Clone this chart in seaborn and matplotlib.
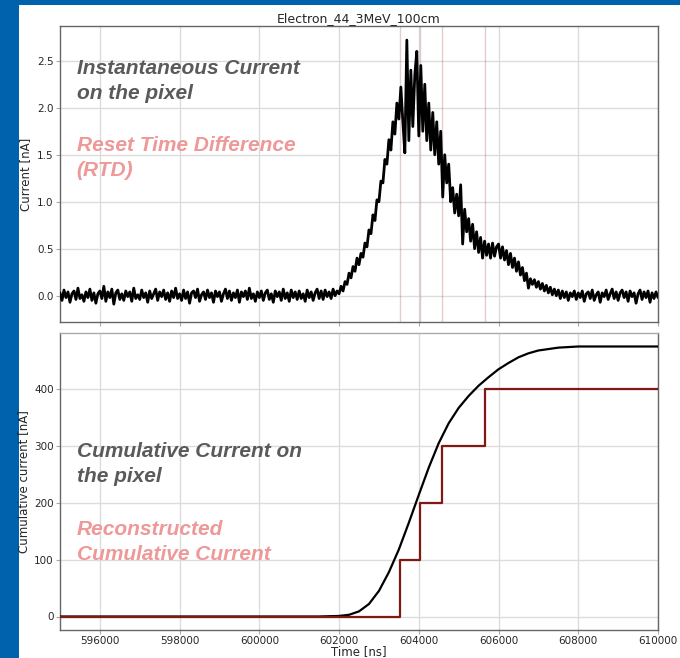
import numpy as np
import pandas as pd
import matplotlib
matplotlib.use("Agg")
import matplotlib.pyplot as plt
from matplotlib.patches import Rectangle
import seaborn as sns

# ---------------- data ----------------
title = "Electron_44_3MeV_100cm"
t_start, t_stop, t_step = 595000, 610000, 50

# instantaneous current [nA], one value every 50 ns from 595000 to 610000
current = [
    0.03, -0.05, 0.06, -0.02, 0.04, -0.07, 0.02, 0.05, -0.04, 0.08, -0.03, 0.01, -0.06, 0.04, -0.02, 0.07, -0.05, 0.03, -0.08, 0.02,
    0.05, -0.03, 0.10, -0.06, 0.04, -0.02, 0.07, -0.09, 0.03, 0.06, -0.04, 0.02, -0.05, 0.05, -0.01, 0.04, -0.06, 0.08, -0.03, 0.01,
    -0.04, 0.06, -0.02, 0.03, -0.07, 0.05, -0.03, 0.02, 0.07, -0.05, 0.04, -0.01, 0.06, -0.04, 0.03, -0.06, 0.05, -0.02, 0.08, -0.03,
    0.02, -0.05, 0.06, -0.03, 0.04, -0.08, 0.03, 0.05, -0.02, 0.07, -0.06, 0.01, 0.04, -0.04, 0.06, -0.02, 0.03, -0.07, 0.05, -0.01,
    0.04, -0.06, 0.02, 0.07, -0.03, 0.05, -0.05, 0.03, -0.02, 0.06, -0.07, 0.04, -0.01, 0.05, -0.04, 0.08, -0.03, 0.02, -0.06, 0.04,
    -0.02, 0.05, -0.05, 0.03, 0.06, -0.04, 0.02, -0.07, 0.05, -0.01, 0.04, -0.05, 0.07, -0.03, 0.03, -0.06, 0.06, -0.02, 0.04, -0.04,
    0.05, -0.03, 0.02, -0.06, 0.06, -0.02, 0.04, -0.05, 0.03, 0.07, -0.03, 0.05, -0.04, 0.06, -0.01, 0.04, -0.03, 0.07, 0.00, 0.05,
    0.02, 0.10, 0.05, 0.15, 0.12, 0.24, 0.19, 0.31, 0.26, 0.40, 0.33, 0.45, 0.41, 0.56, 0.52, 0.70, 0.66, 0.86, 0.80, 1.02,
    1.00, 1.22, 1.20, 1.45, 1.40, 1.66, 1.55, 1.85, 1.72, 2.05, 1.88, 2.22, 1.85, 1.52, 2.72, 1.65, 2.40, 1.80, 2.35, 2.60,
    1.70, 2.45, 1.75, 2.25, 1.65, 2.05, 1.55, 1.95, 1.50, 1.85, 1.40, 1.75, 1.05, 1.50, 1.20, 1.40, 1.00, 1.15, 0.88, 1.08,
    0.85, 1.18, 0.55, 0.92, 0.68, 0.82, 0.58, 0.76, 0.50, 0.68, 0.46, 0.62, 0.40, 0.58, 0.43, 0.55, 0.40, 0.56, 0.42, 0.52,
    0.55, 0.40, 0.52, 0.38, 0.48, 0.33, 0.45, 0.30, 0.40, 0.26, 0.36, 0.22, 0.30, 0.16, 0.24, 0.08, 0.18, 0.12, 0.17, 0.09,
    0.15, 0.07, 0.13, 0.05, 0.11, 0.03, 0.09, 0.01, 0.07, 0.00, 0.06, -0.03, 0.05, -0.02, 0.04, -0.05, 0.03, -0.01, 0.05, -0.04,
    0.03, -0.02, 0.05, -0.06, 0.02, 0.04, -0.03, 0.06, -0.05, 0.01, 0.04, -0.07, 0.03, -0.01, 0.06, -0.04, 0.02, 0.07, -0.03, 0.04,
    -0.05, 0.03, 0.06, -0.02, 0.04, -0.06, 0.05, -0.01, 0.03, -0.08, 0.02, 0.06, -0.04, 0.04, -0.02, 0.05, -0.07, 0.03, -0.03, 0.04,
    -0.02,
]

# cumulative current [nA]
cum_time = [595000, 601500, 602000, 602250, 602500, 602750, 603000, 603250, 603500, 603750,
            604000, 604250, 604500, 604750, 605000, 605250, 605500, 605750, 606000, 606250,
            606500, 606750, 607000, 607500, 608000, 610000]
cum_value = [0, 0, 1, 3, 9, 22, 45, 78, 118, 165,
             214, 262, 305, 340, 367, 388, 406, 421, 435, 446,
             456, 463, 468, 473, 475, 475]

# reset times (RTD) and reconstructed cumulative current
reset_times = [603516, 604018, 604579, 605665]
recon_time = [595000, 603516, 604018, 604579, 605665, 610000]
recon_value = [0, 100, 200, 300, 400, 400]

xticks = [596000, 598000, 600000, 602000, 604000, 606000, 608000, 610000]

# ---------------- figure ----------------
sns.set_style("whitegrid")
plt.rcParams["font.family"] = ["DejaVu Sans"]

W, H = 680, 658
fig = plt.figure(figsize=(W / 100, H / 100), dpi=100)
fig.patch.set_facecolor("#0062AC")
fig.add_artist(Rectangle((19 / W, 0), 1, 1 - 5 / H, transform=fig.transFigure,
                         facecolor="white", edgecolor="none", zorder=-5))

ax1 = fig.add_axes([60 / W, 1 - 322 / H, 598 / W, 296 / H])
ax2 = fig.add_axes([60 / W, 1 - 630 / H, 598 / W, 297 / H], sharex=ax1)

times = np.arange(t_start, t_stop + 1, t_step)
df_cur = pd.DataFrame({"time": times, "current": current})
df_cum = pd.DataFrame({"time": cum_time, "cum": cum_value})
df_rec = pd.DataFrame({"time": recon_time, "rec": recon_value})

sns.lineplot(data=df_cur, x="time", y="current", ax=ax1, color="black",
             linewidth=2.0, estimator=None, sort=False, zorder=3)
for rt in reset_times:
    ax1.axvline(rt, color="#8B1E16", alpha=0.22, linewidth=1.0, zorder=2)

sns.lineplot(data=df_cum, x="time", y="cum", ax=ax2, color="black",
             linewidth=1.6, estimator=None, sort=False, zorder=3)
sns.lineplot(data=df_rec, x="time", y="rec", ax=ax2, color="#7E1A12",
             linewidth=1.6, estimator=None, sort=False, drawstyle="steps-post", zorder=4)

ax1.set_xlim(t_start, t_stop)
ax1.set_ylim(-0.28, 2.87)
ax2.set_ylim(-23.75, 498.75)
ax1.set_yticks([0.0, 0.5, 1.0, 1.5, 2.0, 2.5])
ax2.set_yticks([0, 100, 200, 300, 400])
ax2.set_xticks(xticks)
ax2.set_xticklabels([str(v) for v in xticks])
plt.setp(ax1.get_xticklabels(), visible=False)

ax1.set_title(title, fontsize=9, pad=3)
ax1.set_xlabel("")
ax1.set_ylabel("Current [nA]", fontsize=8.5)
ax2.set_ylabel("Cumulative current [nA]", fontsize=8.5)
ax1.yaxis.set_label_coords(-0.047, 0.5)
ax2.yaxis.set_label_coords(-0.050, 0.5)
ax2.set_xlabel("Time [ns]", fontsize=8.5, labelpad=-1)

for ax in (ax1, ax2):
    ax.grid(True, color="#dcdcdc", linewidth=1.0)
    ax.tick_params(axis="both", which="both", labelsize=7.5, length=3, width=0.8,
                   color="#aaaaaa", pad=1.5, bottom=True, left=True)
    for s in ax.spines.values():
        s.set_color("#666666")
        s.set_linewidth(1.0)
ax2.spines["top"].set_color("#aaaaaa")

txt = dict(fontsize=15, fontweight="bold", fontstyle="italic",
           family=["Liberation Sans", "DejaVu Sans"], va="top", ha="left",
           linespacing=1.38)
ax1.text(0.028, 0.888, "Instantaneous Current\non the pixel", color="#5a5a5a",
         transform=ax1.transAxes, **txt)
ax1.text(0.028, 0.627, "Reset Time Difference\n(RTD)", color="#EE9898",
         transform=ax1.transAxes, **txt)
ax2.text(0.028, 0.633, "Cumulative Current on\nthe pixel", color="#5a5a5a",
         transform=ax2.transAxes, **txt)
ax2.text(0.028, 0.371, "Reconstructed\nCumulative Current", color="#EE9898",
         transform=ax2.transAxes, **txt)

fig.savefig("out.png", dpi=100, facecolor=fig.get_facecolor())
